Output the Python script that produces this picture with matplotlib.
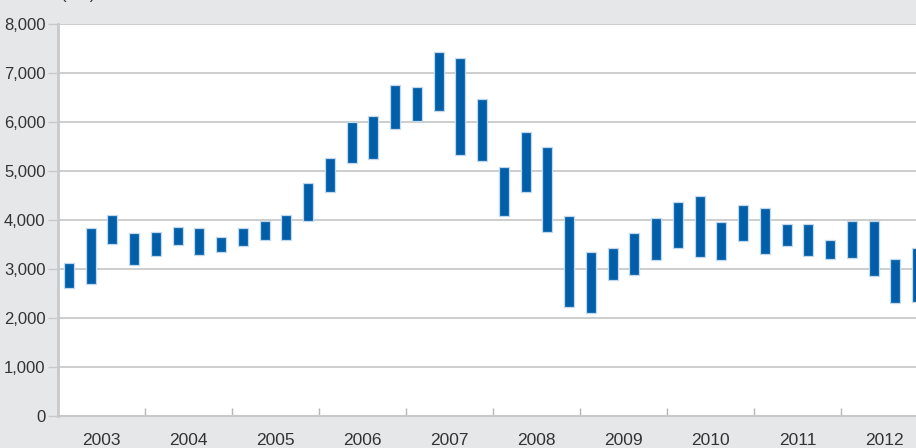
import numpy as np
import matplotlib.pyplot as plt
from matplotlib.ticker import FuncFormatter

# quarterly low / high, 2003 Q1 .. 2012 Q4
years = ['2003', '2004', '2005', '2006', '2007', '2008', '2009', '2010', '2011', '2012']
low = [2610, 2700, 3520, 3080, 3270, 3480, 3280, 3350, 3460, 3590,
       3590, 3970, 4570, 5170, 5240, 5850, 6030, 6220, 5330, 5200,
       4090, 4570, 3760, 2220, 2110, 2780, 2880, 3180, 3420, 3255,
       3190, 3580, 3310, 3460, 3265, 3210, 3225, 2865, 2300, 2320]
high = [3120, 3840, 4110, 3735, 3750, 3850, 3845, 3660, 3830, 3975,
        4100, 4750, 5260, 5990, 6130, 6755, 6720, 7420, 7300, 6475,
        5080, 5795, 5495, 4080, 3340, 3430, 3730, 4040, 4365, 4490,
        3965, 4305, 4250, 3920, 3910, 3600, 3985, 3975, 3210, 3420]

plt.rcParams['font.family'] = ['Liberation Sans Narrow', 'Liberation Sans', 'DejaVu Sans']

bg = '#e6e7e8'
grid = '#c9c9c9'
txt = '#333333'

fig = plt.figure(figsize=(9.16, 4.48), dpi=100, facecolor=bg)
ax = fig.add_axes([58 / 916, 1 - 416 / 448, 1 - 58 / 916, 392 / 448])
ax.set_facecolor('white')

x = np.arange(len(low))
ax.bar(x, np.array(high) - np.array(low), bottom=low, width=0.46,
       color='#005fa8', edgecolor='#c2d8ec', linewidth=0.9, zorder=3)

ax.set_yticks(np.arange(0, 8001, 1000))
ax.yaxis.set_major_formatter(FuncFormatter(lambda v, p: f'{int(v):,}'))
ax.grid(axis='y', color=grid, linewidth=1.3, zorder=0)

# year labels centred, year boundaries as inner ticks
ax.set_xticks(np.arange(1.5, 38, 4))
ax.set_xticklabels(years)
ax.set_xticks(np.arange(3.5, 36, 4), minor=True)
ax.tick_params(axis='x', which='major', length=0, pad=12, labelsize=12.5, labelcolor=txt)
ax.tick_params(axis='x', which='minor', direction='in', length=5.5, width=1, color='#b5b5b5')
ax.tick_params(axis='y', length=7, width=1, color=grid, pad=2, labelsize=12, labelcolor=txt)

# limits last, so the tick calls do not widen them
ax.set_xlim(-0.5, -0.5 + 858 / 21.75)
ax.set_ylim(0, 8000)

for s in ['top', 'right']:
    ax.spines[s].set_visible(False)
ax.spines['left'].set_color(grid)
ax.spines['left'].set_linewidth(2)
ax.spines['bottom'].set_color(grid)
ax.spines['bottom'].set_linewidth(1.5)

fig.text(61 / 916, 1 - 2 / 448, '(mn)', va='bottom', fontsize=12, color=txt)

fig.savefig('out.png', dpi=100, facecolor=bg)
